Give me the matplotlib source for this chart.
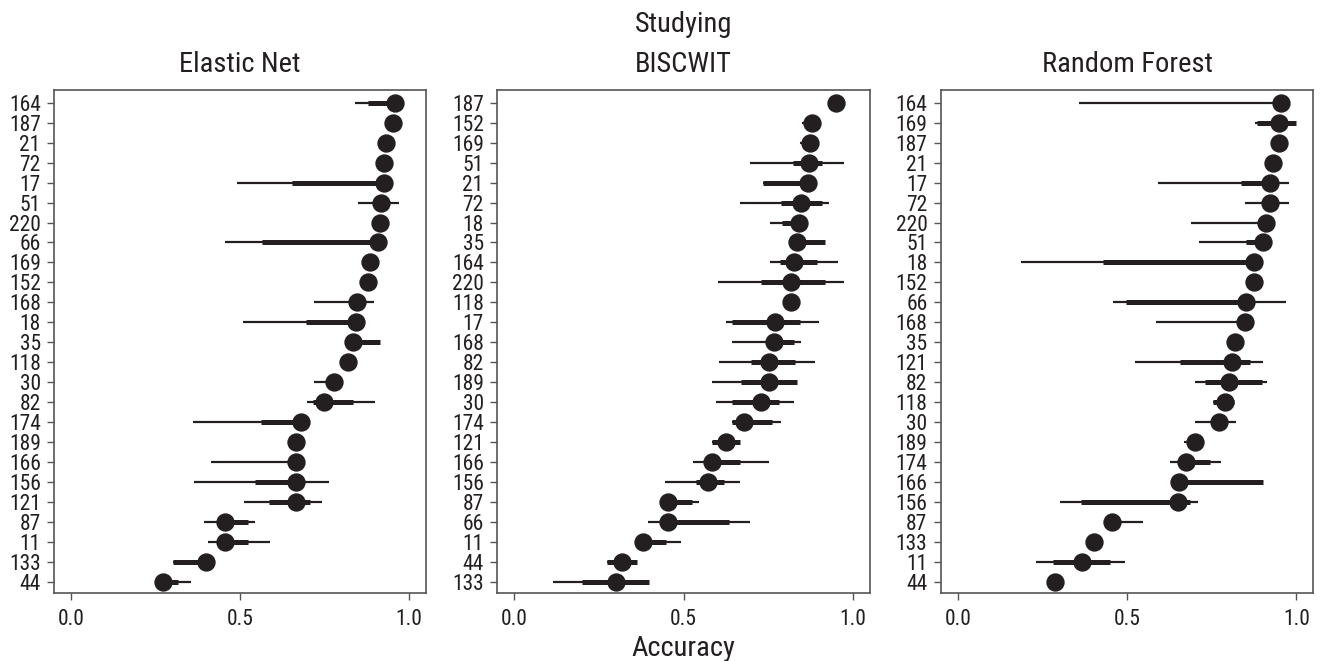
import matplotlib
matplotlib.use("Agg")
import matplotlib.pyplot as plt
from matplotlib import font_manager
from matplotlib.font_manager import FontProperties

# ---------------- data ----------------
en_labels = ["164", "187", "21", "72", "17", "51", "220", "66", "169", "152", "168", "18", "35",
             "118", "30", "82", "174", "189", "166", "156", "121", "87", "11", "133", "44"]
en_acc = [0.958, 0.951, 0.933, 0.926, 0.925, 0.918, 0.913, 0.908, 0.884, 0.877, 0.845, 0.842, 0.833,
          0.818, 0.777, 0.749, 0.680, 0.666, 0.666, 0.666, 0.666, 0.454, 0.454, 0.400, 0.271]
en_thin_lo = [0.841, 0.951, 0.933, 0.926, 0.490, 0.849, 0.913, 0.456, 0.884, 0.877, 0.718, 0.507, 0.833,
              0.818, 0.718, 0.699, 0.359, 0.666, 0.415, 0.364, 0.512, 0.393, 0.405, 0.301, 0.271]
en_thin_hi = [0.958, 0.951, 0.933, 0.926, 0.925, 0.970, 0.913, 0.908, 0.884, 0.877, 0.897, 0.842, 0.913,
              0.818, 0.777, 0.898, 0.680, 0.666, 0.666, 0.762, 0.743, 0.544, 0.588, 0.400, 0.356]
en_thick_lo = [0.879, 0.951, 0.933, 0.926, 0.654, 0.900, 0.913, 0.565, 0.884, 0.877, 0.845, 0.695, 0.833,
               0.818, 0.777, 0.716, 0.562, 0.666, 0.666, 0.545, 0.586, 0.454, 0.454, 0.301, 0.271]
en_thick_hi = [0.958, 0.951, 0.933, 0.926, 0.925, 0.930, 0.913, 0.908, 0.884, 0.877, 0.845, 0.842, 0.913,
               0.818, 0.777, 0.835, 0.680, 0.666, 0.666, 0.680, 0.706, 0.524, 0.524, 0.400, 0.317]

bw_labels = ["187", "152", "169", "51", "21", "72", "18", "35", "164", "220", "118", "17", "168",
             "82", "189", "30", "174", "121", "166", "156", "87", "66", "11", "44", "133"]
bw_acc = [0.950, 0.879, 0.874, 0.871, 0.867, 0.847, 0.841, 0.834, 0.827, 0.818, 0.818, 0.770, 0.768,
          0.751, 0.751, 0.729, 0.679, 0.625, 0.585, 0.572, 0.453, 0.453, 0.381, 0.317, 0.300]
bw_thin_lo = [0.950, 0.849, 0.844, 0.695, 0.734, 0.667, 0.754, 0.834, 0.754, 0.601, 0.818, 0.626, 0.642,
              0.603, 0.585, 0.596, 0.642, 0.585, 0.529, 0.445, 0.453, 0.394, 0.381, 0.273, 0.115]
bw_thin_hi = [0.950, 0.906, 0.874, 0.972, 0.867, 0.928, 0.841, 0.916, 0.956, 0.972, 0.818, 0.900, 0.846,
              0.889, 0.834, 0.827, 0.787, 0.665, 0.751, 0.665, 0.544, 0.696, 0.492, 0.363, 0.399]
bw_thick_lo = [0.950, 0.865, 0.860, 0.823, 0.734, 0.787, 0.790, 0.834, 0.783, 0.728, 0.818, 0.642, 0.750,
               0.699, 0.669, 0.644, 0.642, 0.585, 0.585, 0.537, 0.453, 0.453, 0.381, 0.273, 0.201]
bw_thick_hi = [0.950, 0.895, 0.885, 0.908, 0.867, 0.908, 0.841, 0.916, 0.894, 0.916, 0.818, 0.842, 0.827,
               0.829, 0.834, 0.782, 0.761, 0.665, 0.665, 0.619, 0.526, 0.635, 0.448, 0.363, 0.399]

rf_labels = ["164", "169", "187", "21", "17", "72", "220", "51", "18", "152", "66", "168", "35",
             "121", "82", "118", "30", "189", "174", "166", "156", "87", "133", "11", "44"]
rf_acc = [0.956, 0.948, 0.948, 0.930, 0.923, 0.921, 0.910, 0.901, 0.876, 0.876, 0.851, 0.849, 0.820,
          0.810, 0.800, 0.790, 0.770, 0.701, 0.675, 0.652, 0.650, 0.455, 0.401, 0.366, 0.288]
rf_thin_lo = [0.359, 0.879, 0.948, 0.930, 0.590, 0.849, 0.689, 0.713, 0.186, 0.876, 0.457, 0.586, 0.820,
              0.524, 0.701, 0.753, 0.701, 0.669, 0.628, 0.652, 0.302, 0.455, 0.401, 0.231, 0.288]
rf_thin_hi = [0.956, 1.000, 0.948, 0.930, 0.977, 0.977, 0.910, 0.901, 0.876, 0.876, 0.970, 0.849, 0.820,
              0.901, 0.913, 0.815, 0.822, 0.726, 0.777, 0.901, 0.709, 0.546, 0.401, 0.493, 0.288]
rf_thick_lo = [0.956, 0.884, 0.948, 0.930, 0.836, 0.921, 0.910, 0.851, 0.430, 0.876, 0.497, 0.849, 0.820,
               0.655, 0.729, 0.753, 0.770, 0.685, 0.675, 0.652, 0.365, 0.455, 0.401, 0.281, 0.288]
rf_thick_hi = [0.956, 1.000, 0.948, 0.930, 0.923, 0.921, 0.910, 0.901, 0.876, 0.876, 0.870, 0.849, 0.820,
               0.862, 0.899, 0.815, 0.770, 0.715, 0.746, 0.901, 0.685, 0.455, 0.401, 0.448, 0.288]

titles = ["Elastic Net", "BISCWIT", "Random Forest"]
x_ticks = [0.0, 0.5, 1.0]
x_ticklabels = ["0.0", "0.5", "1.0"]
suptitle = "Studying"
xlabel = "Accuracy"

# ---------------- font: prefer a condensed sans if one is installed ----------------
cond_file = None
prefs = ["robotocondensed-regular", "liberationsansnarrow-regular", "dejavusanscondensed.",
         "opensans_condensed-regular", "opensans-condensedregular", "notosans-condensed.",
         "notosans-condensedregular", "lato-condensed"]
files = [f.fname for f in font_manager.fontManager.ttflist]
for p in prefs:
    for fn in files:
        base = fn.replace("\\", "/").split("/")[-1].lower()
        if base.startswith(p):
            cond_file = fn
            break
    if cond_file:
        break
if cond_file is None:
    for fn in files:
        base = fn.replace("\\", "/").split("/")[-1].lower()
        if ("condensed" in base or "narrow" in base) and "bold" not in base and "italic" not in base \
                and "light" not in base and "oblique" not in base and "mono" not in base and "serif" not in base:
            cond_file = fn
            break

if cond_file is not None:
    def fp(size):
        return FontProperties(fname=cond_file, size=size)
    big, small = 20.5, 15.5
else:
    plt.rcParams["font.family"] = ["Liberation Sans", "DejaVu Sans"]
    def fp(size):
        return FontProperties(family=["Liberation Sans", "DejaVu Sans"], size=size)
    big, small = 18.0, 13.5

ink = "#231f20"
spine_col = "#555555"

fig = plt.figure(figsize=(13.2, 6.61), dpi=100)
lefts = [54.3, 497.3, 941.0]
rights = [426.0, 870.0, 1313.3]
top_px, bot_px = 90.0, 593.3
W, H = 1320.0, 661.0

panels = [
    (en_labels, en_acc, en_thin_lo, en_thin_hi, en_thick_lo, en_thick_hi),
    (bw_labels, bw_acc, bw_thin_lo, bw_thin_hi, bw_thick_lo, bw_thick_hi),
    (rf_labels, rf_acc, rf_thin_lo, rf_thin_hi, rf_thick_lo, rf_thick_hi),
]

for k, (labels, acc, tlo, thi, klo, khi) in enumerate(panels):
    ax = fig.add_axes([lefts[k] / W, 1 - bot_px / H, (rights[k] - lefts[k]) / W, (bot_px - top_px) / H])
    n = len(labels)
    ys = list(range(n))
    ax.hlines(ys, tlo, thi, color=ink, lw=1.6, zorder=2)
    ax.hlines(ys, klo, khi, color=ink, lw=3.6, zorder=3)
    ax.plot(acc, ys, "o", color=ink, ms=12.2, mec=ink, zorder=4)
    ax.set_yticks(ys)
    ax.set_yticklabels(labels, fontproperties=fp(small), color=ink)
    ax.set_ylim(n - 1 + 0.58, -0.64)
    ax.set_xlim(-0.05, 1.05)
    ax.set_xticks(x_ticks)
    ax.set_xticklabels(x_ticklabels, fontproperties=fp(small), color=ink)
    ax.tick_params(axis="y", length=4.8, width=1.0, color=spine_col, pad=5.0)
    ax.tick_params(axis="x", length=5.0, width=1.0, color=spine_col, pad=6.5)
    for sp in ax.spines.values():
        sp.set_color(spine_col)
        sp.set_linewidth(1.2)
    ax.set_title(titles[k], fontproperties=fp(big), color=ink, pad=12.7)

cx = (lefts[1] + rights[1]) / 2 / W
fig.text(cx, 1 - 31.7 / H, suptitle, ha="center", va="baseline", fontproperties=fp(big), color=ink)
fig.text(cx, 1 - 648 / H, xlabel, ha="center", va="center", fontproperties=fp(big), color=ink)

fig.savefig("out.png", dpi=100)
